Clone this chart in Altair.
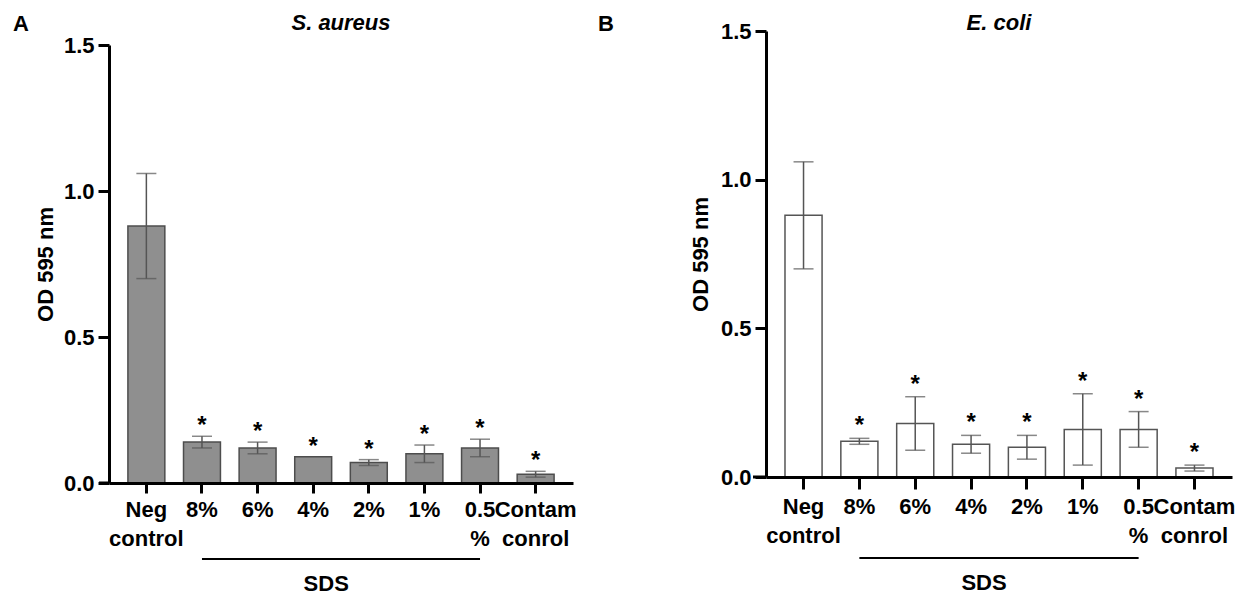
import altair as alt
import pandas as pd

categories = ["Neg control", "8%", "6%", "4%", "2%", "1%", "0.5 %", "Contam conrol"]
aureus_mean = [0.88, 0.14, 0.12, 0.09, 0.07, 0.10, 0.12, 0.03]
aureus_err = [0.18, 0.02, 0.02, 0.00, 0.01, 0.03, 0.03, 0.01]
coli_mean = [0.88, 0.12, 0.18, 0.11, 0.10, 0.16, 0.16, 0.03]
coli_err = [0.18, 0.01, 0.09, 0.03, 0.04, 0.12, 0.06, 0.01]
significant = [False, True, True, True, True, True, True, True]
y_ticks = [0.0, 0.5, 1.0, 1.5]
y_title = "OD 595 nm"
group_label = "SDS"
group_start, group_end, group_mid = "8%", "0.5 %", "4%"

FONT = "Liberation Sans"


def panel(mean, err, letter, title, fill, stroke, p):
    width, height, top = p["w"], p["h"], p["top"]
    df = pd.DataFrame({"cat": categories, "mean": mean, "err": err, "sig": significant})
    df["hi"] = df["mean"] + df["err"]
    df["lo"] = df["mean"] - df["err"]
    one = pd.DataFrame({"k": [0]})

    xs = alt.Scale(domain=categories, paddingInner=0.336, paddingOuter=0.34)
    xa = alt.Axis(title=None, labelExpr="split(datum.label, ' ')", labelAngle=0,
                  labelFont=FONT, labelFontSize=22, labelFontWeight="bold",
                  labelColor="black", labelLineHeight=29, labelPadding=p["lp"],
                  tickSize=p["ts"], tickWidth=3, tickColor="black",
                  domainColor="black", domainWidth=3, labelOverlap=False, zindex=1)
    ys = alt.Scale(domain=[0, 1.5], nice=False, zero=True, range=[height, top])
    ya = alt.Axis(title=y_title, values=y_ticks, format=".1f", grid=False,
                  labelFont=FONT, labelFontSize=22, labelFontWeight="bold",
                  labelColor="black", labelPadding=4, tickSize=11, tickWidth=3,
                  tickColor="black", domainColor="black", domainWidth=3,
                  titleFont=FONT, titleFontSize=22, titleFontWeight="bold",
                  titleColor="black", titleAngle=270, titleBaseline="middle",
                  titleAlign="center", titleX=p["tx"], titleY=(height + top) / 2, zindex=1)
    X = alt.X("cat:N", scale=xs, axis=xa)

    def Y(f):
        return alt.Y(f, scale=ys, axis=ya)

    base = alt.Chart(df)
    bars = base.mark_bar(fill=fill, stroke=stroke, strokeWidth=1.5).encode(x=X, y=Y("mean:Q"))
    eb = base.transform_filter("datum.err > 0")
    rules = eb.mark_rule(color="#555555", strokeWidth=1.5).encode(x=X, y=Y("lo:Q"), y2="hi:Q")
    cap_hi = eb.mark_tick(color="#555555", thickness=1.5, size=20).encode(x=X, y=Y("hi:Q"))
    cap_lo = eb.mark_tick(color="#555555", thickness=1.5, size=20).encode(x=X, y=Y("lo:Q"))
    stars = base.transform_filter("datum.sig").mark_text(
        text="*", font=FONT, fontSize=24, fontWeight="bold", color="black",
        baseline="alphabetic", dy=p["sdy"]).encode(x=X, y=Y("hi:Q"))

    stub = alt.Chart(one).mark_rule(color="black", strokeWidth=3).encode(
        x=alt.value(p["stub"]), x2=alt.value(0), y=alt.value(height))
    line = alt.Chart(one).mark_rule(color="black", strokeWidth=2).encode(
        x=alt.datum(group_start), x2=alt.datum(group_end), y=alt.value(height + p["ly"]))
    sds = alt.Chart(one).mark_text(
        text=group_label, font=FONT, fontSize=22, fontWeight="bold", color="black",
        baseline="alphabetic", dx=13).encode(x=alt.datum(group_mid), y=alt.value(height + p["sy"]))
    ttl = alt.Chart(one).mark_text(
        text=title, font=FONT, fontSize=22, fontWeight="bold", fontStyle="italic",
        color="black", baseline="alphabetic", align="center").encode(
        x=alt.value(width / 2), y=alt.value(p["ty"]))
    lett = alt.Chart(one).mark_text(
        text=letter, font=FONT, fontSize=22, fontWeight="bold", color="black",
        baseline="alphabetic", align="left").encode(
        x=alt.value(p["lx"]), y=alt.value(p["ly2"]))

    return alt.layer(bars, rules, cap_hi, cap_lo, stars, stub, line, sds, ttl, lett).properties(
        width=width, height=height)


pa = dict(w=464, h=452, top=14, lp=6, ts=10, tx=-64, sdy=-3, stub=-10, ly=76, sy=108, ty=-1, lx=-96, ly2=0)
pb = dict(w=466, h=446, top=0, lp=7, ts=12, tx=-66, sdy=-5, stub=-13, ly=81, sy=113, ty=-1, lx=-168, ly2=0)

chart_a = panel(aureus_mean, aureus_err, "A", "S. aureus", "#8f8f8f", "#4d4d4d", pa)
chart_b = panel(coli_mean, coli_err, "B", "E. coli", "white", "#555555", pb)

chart = alt.hconcat(chart_a, chart_b, spacing=21).configure_view(stroke=None).properties(
    padding={"left": 13, "top": 12, "right": 0, "bottom": 0})

chart.save("out.html", embed_options={"renderer": "svg", "actions": False})
